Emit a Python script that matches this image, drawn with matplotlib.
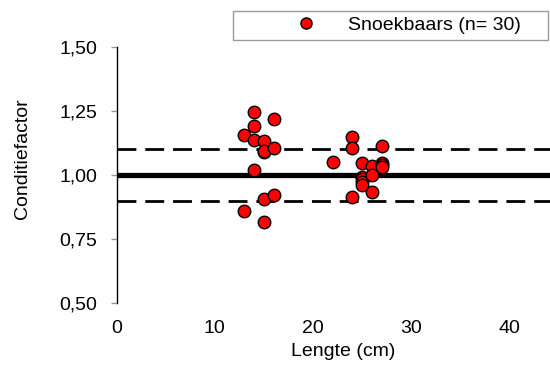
import matplotlib
matplotlib.use("Agg")
import matplotlib.pyplot as plt
from matplotlib.ticker import FixedLocator, FuncFormatter

plt.rcParams['font.family'] = ['Liberation Sans', 'DejaVu Sans']

# Pikeperch (snoekbaars) length vs condition factor
lengte = [13, 13,
          14, 14, 14, 14,
          15, 15, 15, 15, 15,
          16, 16, 16,
          22,
          24, 24, 24,
          25, 25, 25, 25, 25,
          26, 26, 26,
          27, 27, 27, 27]
conditie = [1.156, 0.861,
            1.244, 1.192, 1.136, 1.019,
            1.134, 1.088, 1.095, 0.905, 0.816,
            1.217, 1.104, 0.922,
            1.052,
            1.147, 1.104, 0.915,
            1.046, 0.993, 0.985, 0.974, 0.961,
            1.036, 1.000, 0.935,
            1.113, 1.046, 1.040, 1.032]

reference_lijn = 1.00
grens_boven = 1.10
grens_onder = 0.90

x_ticks = [0, 10, 20, 30, 40]
y_ticks = [0.50, 0.75, 1.00, 1.25, 1.50]

FS = 14

fig = plt.figure(figsize=(5.5, 3.68), dpi=100)
ax = fig.add_axes([116.5 / 550, 64.7 / 368, 433.5 / 550, 256.6 / 368])

ax.axhline(reference_lijn, color='black', lw=3.8, zorder=2)
for g in (grens_boven, grens_onder):
    ax.axhline(g, color='black', lw=2.0, dashes=(6.8, 3.2), zorder=2)

ax.plot(lengte, conditie, linestyle='none', marker='o', markersize=9,
        markerfacecolor='#ff0000', markeredgecolor='black', markeredgewidth=1.0,
        zorder=3, label='Snoekbaars (n= 30)')

ax.set_xlim(0, 433.5 / 9.82)
ax.set_ylim(0.50, 1.50)

ax.xaxis.set_major_locator(FixedLocator(x_ticks))
ax.yaxis.set_major_locator(FixedLocator(y_ticks))
ax.yaxis.set_major_formatter(FuncFormatter(lambda v, p: f"{v:.2f}".replace('.', ',')))

for s in ('top', 'right', 'bottom'):
    ax.spines[s].set_visible(False)
ax.spines['left'].set_linewidth(1.0)

ax.tick_params(axis='x', length=0, pad=12, labelsize=FS)
ax.tick_params(axis='y', length=4.2, width=1.0, color='#999999', pad=9.6, labelsize=FS)

ax.set_xlabel('Lengte (cm)', fontsize=FS)
ax.xaxis.set_label_coords(0.524, -0.155)
ax.set_ylabel('Conditiefactor', fontsize=FS)
ax.yaxis.set_label_coords(-0.1966, 0.562)

leg = fig.legend(loc='lower left',
                 bbox_to_anchor=(232.7 / 550, 1 - 40 / 368, (548 - 232.7) / 550, 31.7 / 368),
                 mode='expand', borderaxespad=0, fontsize=FS, numpoints=1,
                 handlelength=6.94, handletextpad=-1.31, borderpad=0.3,
                 fancybox=False, framealpha=1, edgecolor='#999999')
leg.get_frame().set_linewidth(1.0)
leg.legend_handles[0].set_markersize(8)

fig.savefig('out.png', dpi=100)
